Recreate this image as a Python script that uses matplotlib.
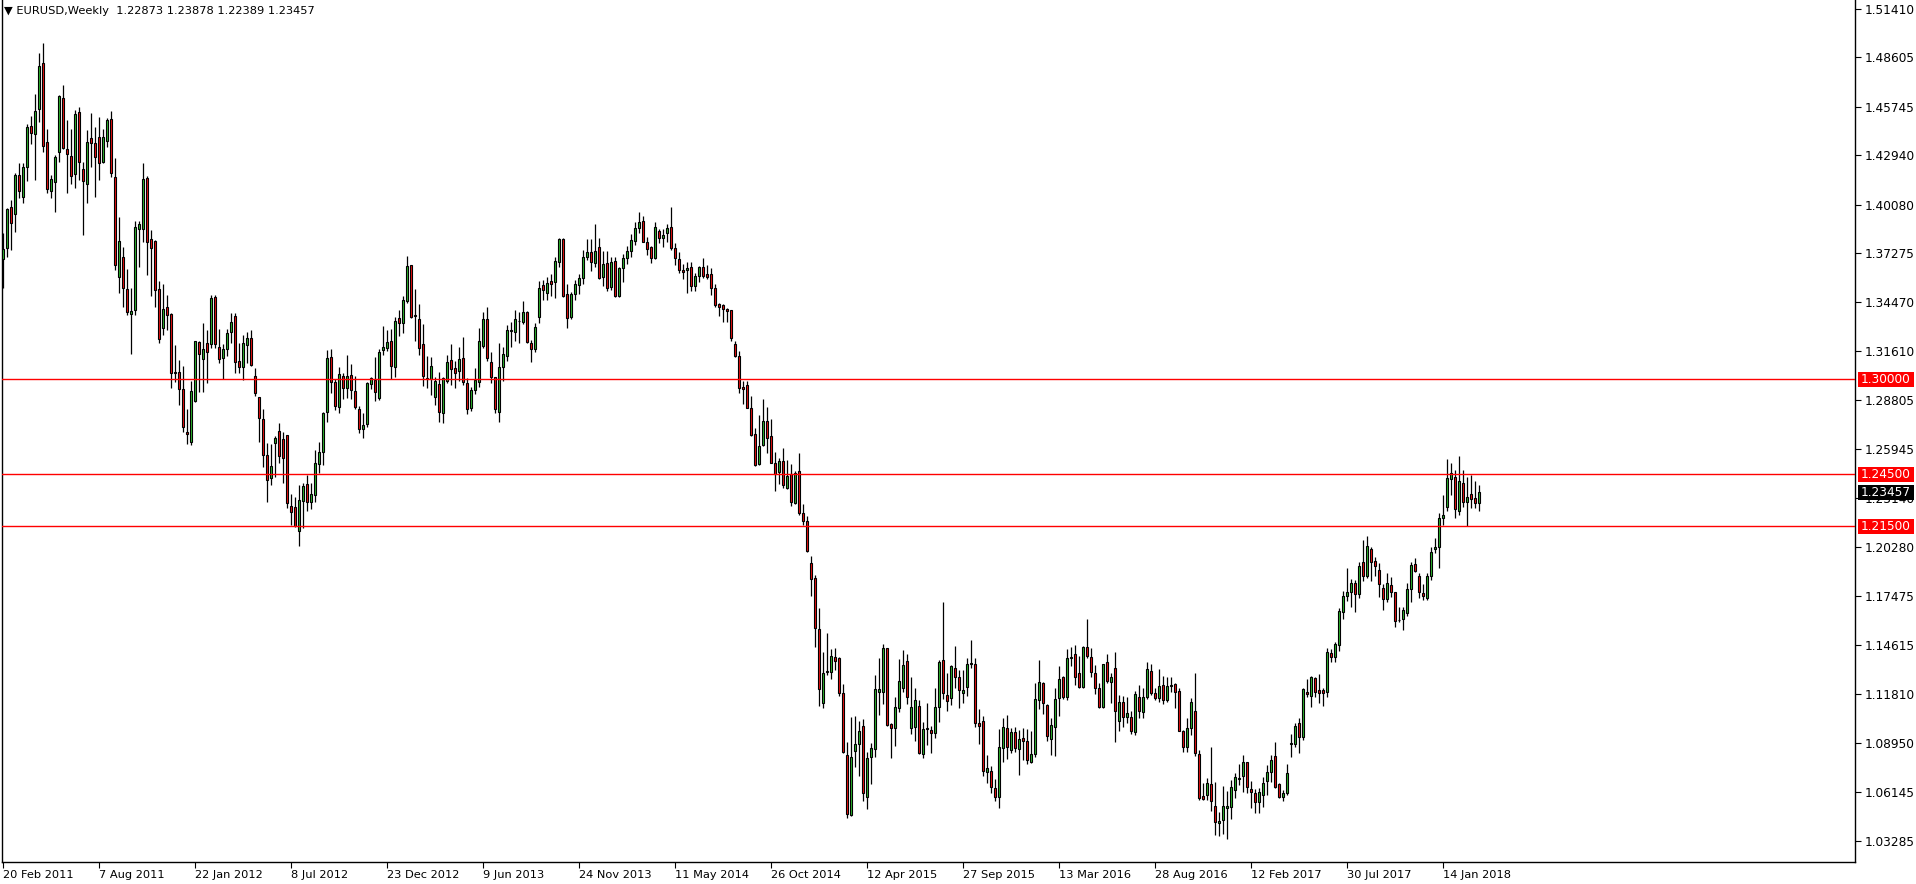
import matplotlib
matplotlib.use("Agg")
import matplotlib.pyplot as plt
import numpy as np
from matplotlib.patches import Rectangle
from matplotlib.transforms import blended_transform_factory

title = "EURUSD,Weekly  1.22873 1.23878 1.22389 1.23457"

# weekly OHLC, first bar = week of 20 Feb 2011
opens = [
    1.3693, 1.3757, 1.3994, 1.3954, 1.4179, 1.4052, 1.4229, 1.4462, 1.4416, 1.4561,
    1.4826, 1.4370, 1.4090, 1.4142, 1.4312, 1.4624, 1.4331, 1.4289, 1.4185, 1.4545,
    1.4214, 1.4127, 1.4393, 1.4364, 1.4399, 1.4256, 1.4378, 1.4503, 1.4167, 1.3593,
    1.3709, 1.3522, 1.3380, 1.3401, 1.3871, 1.3867, 1.4162, 1.3809, 1.3799, 1.3520,
    1.3295, 1.3416, 1.3375, 1.3038, 1.3040, 1.2942, 1.2697, 1.2640, 1.2876, 1.3214,
    1.3119, 1.3208, 1.3202, 1.3475, 1.3189, 1.3121, 1.3173, 1.3271, 1.3366, 1.3104,
    1.3069, 1.3198, 1.3237, 1.3017, 1.2898, 1.2769, 1.2562, 1.2427, 1.2634, 1.2701,
    1.2653, 1.2676, 1.2266, 1.2262, 1.2125, 1.2298, 1.2393, 1.2289, 1.2333, 1.2508,
    1.2578, 1.2809, 1.3127, 1.2984, 1.2842, 1.3021, 1.2952, 1.3025, 1.2932, 1.2826,
    1.2711, 1.2742, 1.2971, 1.2996, 1.2890, 1.3171, 1.3179, 1.3221, 1.3069, 1.3352,
    1.3323, 1.3455, 1.3661, 1.3368, 1.3347, 1.3204, 1.3003, 1.3002, 1.2900, 1.2971,
    1.2807, 1.2992, 1.3113, 1.3067, 1.3048, 1.3121, 1.2977, 1.2836, 1.2936, 1.2986,
    1.3194, 1.3349, 1.3098, 1.3011, 1.2813, 1.3073, 1.3137, 1.3281, 1.3276, 1.3336,
    1.3333, 1.3387, 1.3208, 1.3173, 1.3362, 1.3545, 1.3497, 1.3568, 1.3560, 1.3680,
    1.3811, 1.3493, 1.3362, 1.3495, 1.3545, 1.3583, 1.3707, 1.3734, 1.3670, 1.3763,
    1.3593, 1.3670, 1.3535, 1.3684, 1.3484, 1.3641, 1.3703, 1.3742, 1.3801, 1.3873,
    1.3915, 1.3792, 1.3763, 1.3699, 1.3857, 1.3815, 1.3844, 1.3878, 1.3761, 1.3695,
    1.3632, 1.3630, 1.3647, 1.3537, 1.3595, 1.3649, 1.3609, 1.3609, 1.3526, 1.3435,
    1.3429, 1.3406, 1.3400, 1.3202, 1.3135, 1.2955, 1.2967, 1.2836, 1.2684, 1.2508,
    1.2620, 1.2759, 1.2672, 1.2514, 1.2462, 1.2528, 1.2373, 1.2450, 1.2283, 1.2470,
    1.2225, 1.2181, 1.1936, 1.1850, 1.1555, 1.1131, 1.1306, 1.1306, 1.1393, 1.1387,
    1.1189, 1.0828, 1.0481, 1.0851, 1.0890, 1.0996, 1.0588, 1.0815, 1.0861, 1.1190,
    1.1194, 1.1445, 1.1006, 1.0982, 1.1102, 1.1218, 1.1372, 1.0986, 1.0992, 1.1111,
    1.0832, 1.0979, 1.0973, 1.0958, 1.1108, 1.1377, 1.1175, 1.1156, 1.1329, 1.1277,
    1.1189, 1.1219, 1.1356, 1.1352, 1.1011, 1.1027, 1.0732, 1.0736, 1.0636, 1.0588,
    1.0867, 1.0983, 1.0857, 1.0963, 1.0861, 1.0925, 1.0911, 1.0790, 1.0834, 1.1146,
    1.1243, 1.1117, 1.0919, 1.0988, 1.1156, 1.1277, 1.1162, 1.1391, 1.1412, 1.1300,
    1.1219, 1.1455, 1.1393, 1.1300, 1.1214, 1.1108, 1.1364, 1.1248, 1.1329, 1.1027,
    1.1133, 1.1046, 1.1046, 1.0963, 1.1162, 1.1079, 1.1165, 1.1314, 1.1185, 1.1156,
    1.1233, 1.1146, 1.1230, 1.1237, 1.1198, 1.0967, 1.0876, 1.0986, 1.1083, 1.0832,
    1.0591, 1.0597, 1.0660, 1.0534, 1.0433, 1.0453, 1.0520, 1.0526, 1.0626, 1.0691,
    1.0709, 1.0786, 1.0630, 1.0607, 1.0559, 1.0597, 1.0680, 1.0732, 1.0825, 1.0661,
    1.0588, 1.0607, 1.0892, 1.0890, 1.1011, 1.0930, 1.1194, 1.1169, 1.1272, 1.1204,
    1.1204, 1.1194, 1.1416, 1.1393, 1.1464, 1.1657, 1.1749, 1.1773, 1.1821, 1.1757,
    1.1942, 1.1863, 1.2019, 1.1950, 1.1898, 1.1792, 1.1730, 1.1811, 1.1769, 1.1606,
    1.1614, 1.1651, 1.1788, 1.1932, 1.1863, 1.1763, 1.1738, 1.1865, 1.2017, 1.2029,
    1.2196, 1.2264, 1.2422, 1.2433, 1.2241, 1.2399, 1.2293, 1.2335, 1.2312, 1.22873,
]
highs = [
    1.3844, 1.3988, 1.4036, 1.4191, 1.4252, 1.4252, 1.4476, 1.4522, 1.4647, 1.4884,
    1.4942, 1.4445, 1.4181, 1.4296, 1.4643, 1.4701, 1.4499, 1.4447, 1.4557, 1.4576,
    1.4258, 1.4441, 1.4537, 1.4456, 1.4514, 1.4447, 1.4508, 1.4553, 1.4277, 1.3940,
    1.3767, 1.3640, 1.3525, 1.3915, 1.3915, 1.4248, 1.4175, 1.3863, 1.3805, 1.3568,
    1.3549, 1.3487, 1.3381, 1.3198, 1.3111, 1.3077, 1.2826, 1.2990, 1.3221, 1.3223,
    1.3327, 1.3285, 1.3487, 1.3487, 1.3291, 1.3202, 1.3291, 1.3385, 1.3385, 1.3212,
    1.3256, 1.3275, 1.3285, 1.3063, 1.2900, 1.2826, 1.2630, 1.2626, 1.2672, 1.2747,
    1.2697, 1.2678, 1.2335, 1.2322, 1.2389, 1.2403, 1.2445, 1.2399, 1.2591, 1.2639,
    1.2811, 1.3169, 1.3173, 1.2999, 1.3073, 1.3034, 1.3139, 1.3088, 1.3019, 1.2845,
    1.2803, 1.2986, 1.3015, 1.3127, 1.3173, 1.3308, 1.3285, 1.3289, 1.3362, 1.3401,
    1.3481, 1.3713, 1.3661, 1.3520, 1.3433, 1.3318, 1.3135, 1.3127, 1.3015, 1.3044,
    1.3015, 1.3141, 1.3204, 1.3106, 1.3189, 1.3243, 1.3005, 1.2957, 1.3063, 1.3298,
    1.3387, 1.3420, 1.3160, 1.3015, 1.3212, 1.3189, 1.3314, 1.3329, 1.3401, 1.3391,
    1.3453, 1.3395, 1.3227, 1.3323, 1.3568, 1.3574, 1.3593, 1.3607, 1.3709, 1.3819,
    1.3819, 1.3549, 1.3507, 1.3574, 1.3607, 1.3747, 1.3811, 1.3811, 1.3896, 1.3815,
    1.3742, 1.3742, 1.3709, 1.3709, 1.3651, 1.3722, 1.3772, 1.3838, 1.3911, 1.3969,
    1.3946, 1.3824, 1.3772, 1.3907, 1.3869, 1.3867, 1.3896, 1.3998, 1.3786, 1.3734,
    1.3665, 1.3680, 1.3676, 1.3612, 1.3655, 1.3703, 1.3661, 1.3645, 1.3549, 1.3439,
    1.3435, 1.3414, 1.3400, 1.3221, 1.3164, 1.2990, 1.2990, 1.2904, 1.2716, 1.2794,
    1.2886, 1.2838, 1.2770, 1.2582, 1.2547, 1.2601, 1.2533, 1.2508, 1.2472, 1.2572,
    1.2277, 1.2211, 1.1981, 1.1869, 1.1676, 1.1426, 1.1532, 1.1441, 1.1449, 1.1397,
    1.1239, 1.0905, 1.1046, 1.1056, 1.1025, 1.1036, 1.0848, 1.0896, 1.1291, 1.1391,
    1.1468, 1.1445, 1.1011, 1.1166, 1.1383, 1.1435, 1.1410, 1.1281, 1.1218, 1.1146,
    1.1021, 1.1129, 1.0998, 1.1218, 1.1377, 1.1711, 1.1300, 1.1349, 1.1458, 1.1320,
    1.1320, 1.1387, 1.1493, 1.1387, 1.1092, 1.1054, 1.0828, 1.0765, 1.0688, 1.0977,
    1.1040, 1.1060, 1.0983, 1.0988, 1.0973, 1.0982, 1.0977, 1.0967, 1.1247, 1.1377,
    1.1252, 1.1123, 1.1040, 1.1214, 1.1343, 1.1285, 1.1439, 1.1455, 1.1464, 1.1401,
    1.1458, 1.1615, 1.1449, 1.1349, 1.1243, 1.1352, 1.1415, 1.1300, 1.1426, 1.1175,
    1.1171, 1.1166, 1.1083, 1.1198, 1.1233, 1.1214, 1.1368, 1.1352, 1.1214, 1.1324,
    1.1287, 1.1281, 1.1281, 1.1243, 1.1214, 1.0973, 1.1040, 1.1160, 1.1300, 1.0857,
    1.0665, 1.0697, 1.0874, 1.0674, 1.0501, 1.0649, 1.0620, 1.0684, 1.0722, 1.0776,
    1.0828, 1.0786, 1.0680, 1.0630, 1.0636, 1.0703, 1.0770, 1.0828, 1.0905, 1.0665,
    1.0626, 1.0774, 1.0950, 1.1011, 1.1040, 1.1214, 1.1268, 1.1287, 1.1281, 1.1297,
    1.1214, 1.1445, 1.1439, 1.1484, 1.1676, 1.1778, 1.1911, 1.1844, 1.1840, 1.1942,
    1.2071, 1.2096, 1.2033, 1.1975, 1.1936, 1.1815, 1.1878, 1.1859, 1.1772, 1.1686,
    1.1686, 1.1821, 1.1946, 1.1965, 1.1878, 1.1815, 1.1878, 1.2033, 1.2085, 1.2225,
    1.2331, 1.2539, 1.2514, 1.2476, 1.2557, 1.2476, 1.2437, 1.2447, 1.2412, 1.23878,
]
lows = [
    1.3526, 1.3709, 1.3747, 1.3853, 1.4050, 1.4021, 1.4148, 1.4362, 1.4152, 1.4489,
    1.4316, 1.4075, 1.4046, 1.3969, 1.4258, 1.4329, 1.4075, 1.4127, 1.4104, 1.4152,
    1.3834, 1.4017, 1.4229, 1.4056, 1.4152, 1.4252, 1.4345, 1.4171, 1.3632, 1.3497,
    1.3420, 1.3370, 1.3146, 1.3372, 1.3651, 1.3796, 1.3603, 1.3483, 1.3420, 1.3212,
    1.3256, 1.3285, 1.2948, 1.2986, 1.2851, 1.2697, 1.2624, 1.2620, 1.2867, 1.2925,
    1.2925, 1.2977, 1.3179, 1.3179, 1.3096, 1.2999, 1.3135, 1.3208, 1.3034, 1.3034,
    1.2996, 1.3096, 1.3077, 1.2903, 1.2640, 1.2495, 1.2288, 1.2389, 1.2437, 1.2514,
    1.2399, 1.2254, 1.2158, 1.2144, 1.2036, 1.2138, 1.2239, 1.2248, 1.2293, 1.2460,
    1.2505, 1.2755, 1.2919, 1.2822, 1.2803, 1.2886, 1.2890, 1.2886, 1.2826, 1.2688,
    1.2659, 1.2726, 1.2942, 1.2876, 1.2880, 1.3141, 1.3166, 1.3000, 1.3015, 1.3250,
    1.3266, 1.3439, 1.3352, 1.3221, 1.3140, 1.2963, 1.2952, 1.2909, 1.2851, 1.2751,
    1.2746, 1.2977, 1.2967, 1.2952, 1.2990, 1.2967, 1.2797, 1.2819, 1.2913, 1.2957,
    1.3179, 1.3106, 1.2980, 1.2803, 1.2755, 1.2992, 1.3106, 1.3189, 1.3221, 1.3208,
    1.3318, 1.3208, 1.3102, 1.3160, 1.3323, 1.3458, 1.3458, 1.3482, 1.3472, 1.3651,
    1.3478, 1.3295, 1.3347, 1.3458, 1.3491, 1.3549, 1.3690, 1.3626, 1.3651, 1.3580,
    1.3541, 1.3512, 1.3516, 1.3478, 1.3478, 1.3560, 1.3664, 1.3709, 1.3776, 1.3844,
    1.3792, 1.3718, 1.3670, 1.3695, 1.3786, 1.3767, 1.3796, 1.3747, 1.3661, 1.3612,
    1.3580, 1.3501, 1.3512, 1.3512, 1.3564, 1.3583, 1.3580, 1.3487, 1.3420, 1.3368,
    1.3333, 1.3333, 1.3221, 1.3131, 1.2919, 1.2855, 1.2832, 1.2672, 1.2501, 1.2504,
    1.2616, 1.2572, 1.2514, 1.2354, 1.2393, 1.2370, 1.2366, 1.2269, 1.2277, 1.2215,
    1.2157, 1.2000, 1.1749, 1.1454, 1.1113, 1.1098, 1.1291, 1.1268, 1.1320, 1.1171,
    1.0838, 1.0462, 1.0478, 1.0761, 1.0709, 1.0562, 1.0516, 1.0659, 1.0819, 1.1060,
    1.1121, 1.0998, 1.0813, 1.0882, 1.1075, 1.1191, 1.1121, 1.0948, 1.0909, 1.0832,
    1.0809, 1.0886, 1.0838, 1.0925, 1.1017, 1.1152, 1.1085, 1.1117, 1.1214, 1.1102,
    1.1131, 1.1169, 1.1333, 1.0992, 1.0892, 1.0707, 1.0668, 1.0611, 1.0564, 1.0520,
    1.0790, 1.0803, 1.0838, 1.0848, 1.0713, 1.0799, 1.0776, 1.0784, 1.0819, 1.1092,
    1.1065, 1.0911, 1.0828, 1.0823, 1.1054, 1.1150, 1.1146, 1.1343, 1.1233, 1.1214,
    1.1214, 1.1387, 1.1281, 1.1179, 1.1102, 1.1098, 1.1243, 1.1127, 1.0905, 1.0967,
    1.0992, 1.1011, 1.0948, 1.0944, 1.1040, 1.1040, 1.1152, 1.1175, 1.1146, 1.1137,
    1.1121, 1.1137, 1.1191, 1.1102, 1.0967, 1.0848, 1.0848, 1.0944, 1.0825, 1.0568,
    1.0568, 1.0568, 1.0505, 1.0366, 1.0360, 1.0372, 1.0341, 1.0456, 1.0578, 1.0655,
    1.0616, 1.0607, 1.0520, 1.0491, 1.0491, 1.0526, 1.0597, 1.0674, 1.0636, 1.0578,
    1.0564, 1.0597, 1.0818, 1.0873, 1.0838, 1.0915, 1.1166, 1.1108, 1.1166, 1.1131,
    1.1113, 1.1166, 1.1368, 1.1368, 1.1431, 1.1612, 1.1720, 1.1686, 1.1657, 1.1734,
    1.1834, 1.1850, 1.1834, 1.1865, 1.1743, 1.1666, 1.1715, 1.1743, 1.1570, 1.1595,
    1.1551, 1.1632, 1.1714, 1.1888, 1.1734, 1.1724, 1.1724, 1.1840, 1.1998, 1.1911,
    1.2158, 1.2239, 1.2331, 1.2200, 1.2216, 1.2264, 1.2152, 1.2254, 1.2254, 1.22389,
]
closes = [
    1.3751, 1.3982, 1.3902, 1.4181, 1.4090, 1.4227, 1.4458, 1.4421, 1.4551, 1.4811,
    1.4351, 1.4102, 1.4156, 1.4285, 1.4636, 1.4335, 1.4304, 1.4177, 1.4533, 1.4258,
    1.4148, 1.4370, 1.4364, 1.4283, 1.4248, 1.4399, 1.4499, 1.4194, 1.3661, 1.3799,
    1.3526, 1.3390, 1.3395, 1.3879, 1.3898, 1.4156, 1.3792, 1.3757, 1.3514, 1.3231,
    1.3404, 1.3370, 1.3034, 1.3042, 1.2942, 1.2722, 1.2682, 1.2930, 1.3219, 1.3144,
    1.3173, 1.3156, 1.3470, 1.3202, 1.3115, 1.3173, 1.3268, 1.3333, 1.3098, 1.3073,
    1.3210, 1.3237, 1.3083, 1.2923, 1.2774, 1.2560, 1.2418, 1.2499, 1.2659, 1.2559,
    1.2547, 1.2283, 1.2235, 1.2152, 1.2300, 1.2383, 1.2293, 1.2335, 1.2514, 1.2578,
    1.2805, 1.3125, 1.2982, 1.2847, 1.3029, 1.2952, 1.3019, 1.2936, 1.2838, 1.2711,
    1.2736, 1.2977, 1.3006, 1.2928, 1.3156, 1.3185, 1.3214, 1.3079, 1.3337, 1.3323,
    1.3458, 1.3655, 1.3362, 1.3372, 1.3183, 1.3021, 1.3007, 1.3075, 1.2990, 1.2813,
    1.3009, 1.3102, 1.3058, 1.3034, 1.3115, 1.2982, 1.2826, 1.2938, 1.2996, 1.3221,
    1.3349, 1.3121, 1.3015, 1.2826, 1.3069, 1.3146, 1.3285, 1.3285, 1.3347, 1.3338,
    1.3387, 1.3214, 1.3173, 1.3300, 1.3526, 1.3516, 1.3555, 1.3549, 1.3684, 1.3811,
    1.3484, 1.3356, 1.3493, 1.3551, 1.3583, 1.3705, 1.3734, 1.3680, 1.3742, 1.3583,
    1.3664, 1.3526, 1.3676, 1.3484, 1.3641, 1.3699, 1.3742, 1.3805, 1.3873, 1.3907,
    1.3796, 1.3751, 1.3703, 1.3882, 1.3815, 1.3834, 1.3873, 1.3757, 1.3699, 1.3630,
    1.3622, 1.3643, 1.3537, 1.3597, 1.3649, 1.3595, 1.3593, 1.3526, 1.3429, 1.3420,
    1.3406, 1.3395, 1.3241, 1.3135, 1.2948, 1.2944, 1.2836, 1.2678, 1.2504, 1.2614,
    1.2759, 1.2662, 1.2518, 1.2450, 1.2528, 1.2389, 1.2443, 1.2289, 1.2456, 1.2225,
    1.2181, 1.2005, 1.1846, 1.1564, 1.1208, 1.1300, 1.1315, 1.1401, 1.1374, 1.1189,
    1.0844, 1.0487, 1.0815, 1.0890, 1.0967, 1.0607, 1.0813, 1.0867, 1.1210, 1.1210,
    1.1445, 1.1002, 1.0982, 1.1108, 1.1256, 1.1349, 1.1165, 1.1104, 1.1146, 1.0838,
    1.0977, 1.0983, 1.0958, 1.1104, 1.1364, 1.1185, 1.1142, 1.1343, 1.1281, 1.1204,
    1.1204, 1.1352, 1.1360, 1.1011, 1.0996, 1.0738, 1.0751, 1.0642, 1.0588, 1.0873,
    1.0988, 1.0873, 1.0959, 1.0867, 1.0919, 1.0911, 1.0799, 1.0832, 1.1150, 1.1252,
    1.1127, 1.0938, 1.1002, 1.1150, 1.1266, 1.1162, 1.1387, 1.1397, 1.1281, 1.1219,
    1.1451, 1.1403, 1.1310, 1.1214, 1.1108, 1.1352, 1.1256, 1.1279, 1.1085, 1.1133,
    1.1050, 1.1069, 1.0967, 1.1181, 1.1083, 1.1162, 1.1324, 1.1185, 1.1156, 1.1227,
    1.1146, 1.1227, 1.1233, 1.1194, 1.0967, 1.0876, 1.0986, 1.1137, 1.0842, 1.0582,
    1.0574, 1.0665, 1.0560, 1.0443, 1.0449, 1.0534, 1.0534, 1.0642, 1.0699, 1.0695,
    1.0786, 1.0642, 1.0613, 1.0559, 1.0617, 1.0668, 1.0732, 1.0800, 1.0645, 1.0588,
    1.0607, 1.0722, 1.0896, 1.0998, 1.0930, 1.1208, 1.1179, 1.1281, 1.1194, 1.1189,
    1.1189, 1.1422, 1.1397, 1.1470, 1.1661, 1.1747, 1.1769, 1.1821, 1.1757, 1.1921,
    1.1863, 1.2036, 1.1942, 1.1923, 1.1815, 1.1730, 1.1821, 1.1772, 1.1605, 1.1610,
    1.1666, 1.1788, 1.1927, 1.1894, 1.1772, 1.1749, 1.1863, 1.1999, 1.2029, 1.2196,
    1.2216, 1.2428, 1.2457, 1.2248, 1.2412, 1.2293, 1.2318, 1.2306, 1.2287, 1.23457,
]

date_labels = ["20 Feb 2011", "7 Aug 2011", "22 Jan 2012", "8 Jul 2012",
               "23 Dec 2012", "9 Jun 2013", "24 Nov 2013", "11 May 2014",
               "26 Oct 2014", "12 Apr 2015", "27 Sep 2015", "13 Mar 2016",
               "28 Aug 2016", "12 Feb 2017", "30 Jul 2017", "14 Jan 2018"]
label_every = 24  # weeks between date labels

price_ticks = [1.51410, 1.48605, 1.45745, 1.42940, 1.40080, 1.37275, 1.34470,
               1.31610, 1.28805, 1.25945, 1.23140, 1.20280, 1.17475, 1.14615,
               1.11810, 1.08950, 1.06145, 1.03285]
levels = [1.30000, 1.24500, 1.21500]
last_price = 1.23457

W, H = 1916, 884
fig = plt.figure(figsize=(W / 100, H / 100), dpi=100)
fig.patch.set_facecolor("white")
ax = fig.add_axes([2 / W, 22 / H, 1853 / W, 862 / H])

o = np.array(opens)
h = np.array(highs)
l = np.array(lows)
c = np.array(closes)
x = np.arange(len(o))
up = c >= o

ax.vlines(x, l, h, color="black", lw=0.9, zorder=2)
ax.bar(x, np.abs(c - o), bottom=np.minimum(o, c), width=0.55,
       color=np.where(up, "#2fb82f", "#ee1111"), edgecolor="black",
       linewidth=0.8, zorder=3)

for lvl in levels:
    ax.axhline(lvl, color="#ff0000", lw=1.0, zorder=4)

ax.set_xlim(-0.325, 462.9)
ax.set_ylim(1.02098, 1.51925)

ax.yaxis.tick_right()
ax.set_yticks(price_ticks)
ax.set_yticklabels([f"{v:.5f}" for v in price_ticks])
ax.set_xticks(np.arange(len(date_labels)) * label_every)
ax.set_xticklabels(date_labels)
for lbl in ax.get_xticklabels():
    lbl.set_horizontalalignment("left")
ax.tick_params(axis="y", direction="out", length=4, width=0.8, labelsize=8.7,
               pad=3, colors="black")
ax.tick_params(axis="x", direction="out", length=4, width=0.8, labelsize=8.2,
               pad=2, colors="black")
ax.spines["top"].set_visible(False)
for s in ("left", "right", "bottom"):
    ax.spines[s].set_color("black")
    ax.spines[s].set_linewidth(1.0)

# price tags on the right scale
tr = blended_transform_factory(fig.transFigure, ax.transData)
box_h = 15 / 1730
tags = [(lvl, "#ff0000") for lvl in levels] + [(last_price, "black")]
for val, col in tags:
    fig.add_artist(Rectangle((1858 / W, val - box_h / 2), 56 / W, box_h,
                             transform=tr, facecolor=col, edgecolor="none",
                             clip_on=False, zorder=10))
    fig.text(1861 / W, val, f"{val:.5f}", transform=tr, color="white",
             fontsize=8.7, va="center", ha="left", zorder=11)

fig.text(4 / W, 1 - 11 / H, "\u25bc " + title, fontsize=8.2, va="center",
         ha="left", color="black")

fig.savefig("out.png", dpi=100)
